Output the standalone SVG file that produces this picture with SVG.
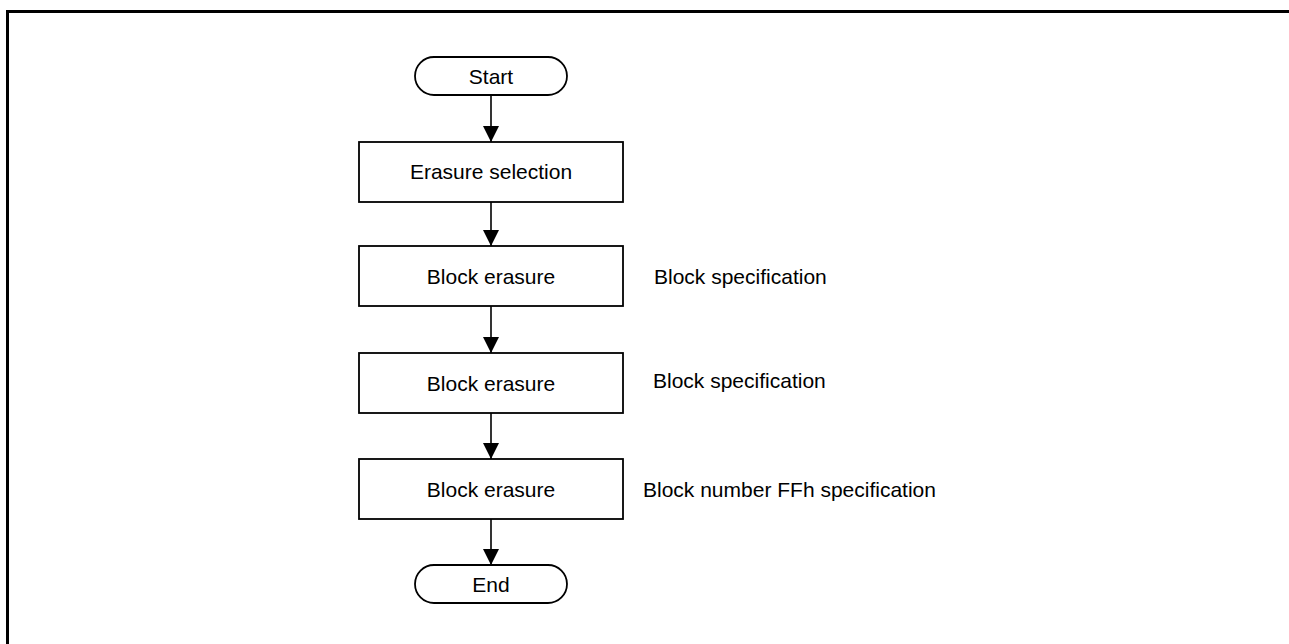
<svg xmlns="http://www.w3.org/2000/svg" width="1289" height="644" viewBox="0 0 1289 644">
<style>
.box{fill:#fff;stroke:#000;stroke-width:1.8}
.t{font-family:"Liberation Sans",Arial,sans-serif;font-size:21px;fill:#000}
.c{text-anchor:middle}
.conn{stroke:#000;stroke-width:1.6;fill:none;marker-end:url(#arr)}
</style>
<defs>
<marker id="arr" markerUnits="userSpaceOnUse" markerWidth="16" markerHeight="16" viewBox="0 0 16 16" refX="16" refY="8" orient="auto">
<path d="M0,0 L16,8 L0,16 Z" fill="#000"/>
</marker>
</defs>
<rect x="0" y="0" width="1289" height="644" fill="#fff"/>
<rect x="7.5" y="11.5" width="1310" height="660" fill="none" stroke="#000" stroke-width="3"/>
<g id="connectors">
<line class="conn" x1="491" y1="95" x2="491" y2="142"/>
<line class="conn" x1="491" y1="202" x2="491" y2="246"/>
<line class="conn" x1="491" y1="306" x2="491" y2="353"/>
<line class="conn" x1="491" y1="413" x2="491" y2="459"/>
<line class="conn" x1="491" y1="519" x2="491" y2="565"/>
</g>
<g id="start">
<rect class="box" x="415" y="57" width="152" height="38" rx="19" ry="19"/>
<text class="t c" x="491" y="83.5">Start</text>
</g>
<g id="erasure-selection">
<rect class="box" x="359" y="142" width="264" height="60"/>
<text class="t c" x="491" y="179">Erasure selection</text>
</g>
<g id="block-erasure-1">
<rect class="box" x="359" y="246" width="264" height="60"/>
<text class="t c" x="491" y="283.5">Block erasure</text>
<text class="t" x="654" y="283.5">Block specification</text>
</g>
<g id="block-erasure-2">
<rect class="box" x="359" y="353" width="264" height="60"/>
<text class="t c" x="491" y="390.5">Block erasure</text>
<text class="t" x="653" y="388">Block specification</text>
</g>
<g id="block-erasure-3">
<rect class="box" x="359" y="459" width="264" height="60"/>
<text class="t c" x="491" y="496.5">Block erasure</text>
<text class="t" x="643" y="496.5">Block number FFh specification</text>
</g>
<g id="end">
<rect class="box" x="415" y="565" width="152" height="38" rx="19" ry="19"/>
<text class="t c" x="491" y="591.5">End</text>
</g>
</svg>
